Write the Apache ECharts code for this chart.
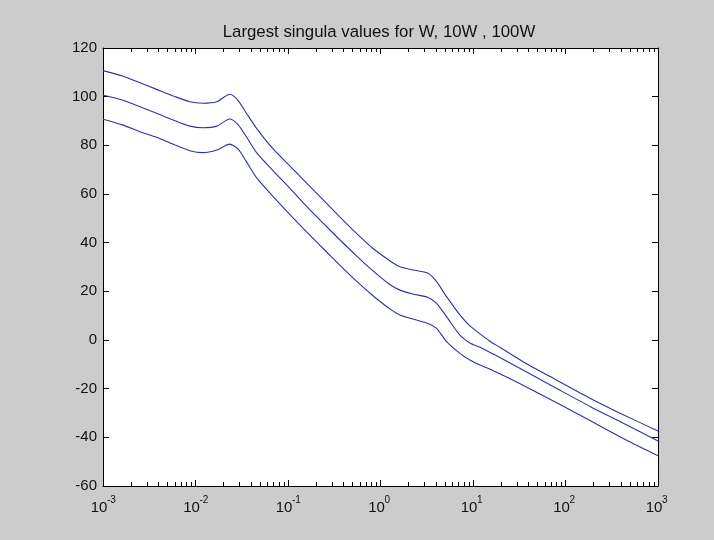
<!DOCTYPE html>
<html>
<head>
<meta charset="utf-8">
<script src="https://cdn.jsdelivr.net/npm/echarts@6/dist/echarts.min.js"></script>
<style>
  html, body { margin: 0; padding: 0; background: #cccccc; }
  #chart { width: 714px; height: 540px; }
</style>
</head>
<body>
<div id="chart"></div>
<script>
// Frequency grid (rad/s) shared by the three singular-value curves
const freq = [
  0.001, 0.00162, 0.00251, 0.0038, 0.00575, 0.0087, 0.012, 0.017, 0.0234, 0.0288,
  0.0355, 0.0457, 0.0692, 0.105, 0.158, 0.24, 0.363, 0.55, 0.83, 1.26,
  1.62, 2.24, 3.27, 4.04, 5.18, 7.21, 9.25, 11.9, 15.1, 19.5,
  34.7, 80.4, 186, 427, 1000
];

// Largest singular value of 100W
const sigma100W = [
  110.7, 108.5, 105.7, 103.0, 100.3, 97.9, 97.3, 97.9, 101.0, 98.5,
  93.2, 87.0, 78.5, 71.5, 64.6, 57.6, 50.6, 43.8, 37.6, 32.6,
  30.1, 28.8, 27.4, 24.0, 17.8, 10.3, 5.8, 2.5, -0.4, -3.0,
  -8.9, -16.5, -24.0, -30.8, -37.4
];

// Largest singular value of 10W
const sigma10W = [
  100.7, 98.6, 95.9, 93.2, 90.4, 87.9, 87.2, 87.9, 90.8, 88.5,
  83.5, 77.0, 69.5, 62.3, 55.0, 48.0, 41.2, 34.6, 28.4, 22.8,
  20.5, 18.9, 17.5, 15.1, 9.6, 2.0, -1.2, -3.0, -5.0, -7.2,
  -12.3, -19.9, -27.4, -34.3, -41.5
];

// Largest singular value of W
const sigmaW = [
  90.7, 88.4, 85.6, 83.3, 80.4, 77.8, 77.0, 78.1, 80.5, 78.5,
  73.3, 66.7, 58.9, 51.5, 44.5, 37.6, 30.8, 24.2, 18.2, 12.8,
  10.3, 8.6, 6.8, 4.8, -0.7, -5.5, -8.2, -10.3, -11.9, -13.9,
  -18.6, -25.8, -33.2, -40.6, -47.6
];

// Decade ticks of the log frequency axis: mantissa and exponent labels
const decadeTicks = [0.001, 0.01, 0.1, 1, 10, 100, 1000];
const decadeExponents = ['-3', '-2', '-1', '0', '1', '2', '3'];
const decadeBase = '10';

// Minor ticks at 2..9 times each decade
const minorTicks = [];
for (let i = 0; i < decadeTicks.length - 1; i++) {
  for (let k = 2; k <= 9; k++) minorTicks.push(+(k * decadeTicks[i]).toPrecision(3));
}

const FONT = '"Liberation Sans", Arial, sans-serif';
const LINE_COLOR = '#3030a8';

function decadeIndex(v) {
  return decadeTicks.findIndex(t => Math.abs(Math.log10(t) - Math.log10(v)) < 1e-6);
}

function logAxisBase(position) {
  return {
    type: 'log', logBase: 10, min: 0.001, max: 1000, position: position,
    axisLine: { show: false, onZero: false },
    axisTick: { show: false },
    axisLabel: { show: false },
    splitLine: { show: false }
  };
}

// Box edge with major decade ticks
function decadeAxis(position) {
  const a = logAxisBase(position);
  a.axisLine = { show: true, onZero: false, lineStyle: { color: '#000', width: 1 } };
  a.axisTick = { show: true, inside: true, length: 6, customValues: decadeTicks,
                 lineStyle: { color: '#000', width: 1 } };
  return a;
}

// Minor ticks at 2..9 within each decade
function minorAxis(position) {
  const a = logAxisBase(position);
  a.axisTick = { show: true, inside: true, length: 4, customValues: minorTicks,
                 lineStyle: { color: '#000', width: 1 } };
  return a;
}

// "10" part of the decade labels
function baseLabelAxis() {
  const a = logAxisBase('bottom');
  a.axisLabel = {
    show: true, margin: 14, customValues: decadeTicks, align: 'center',
    padding: [0, 8, 0, 0],
    formatter: () => decadeBase,
    fontFamily: FONT, fontSize: 15, color: '#111'
  };
  return a;
}

// Superscript exponent of the decade labels
function exponentLabelAxis() {
  const a = logAxisBase('bottom');
  a.axisLabel = {
    show: true, margin: 9, customValues: decadeTicks, align: 'left',
    padding: [0, 0, 0, 4],
    formatter: v => decadeExponents[decadeIndex(v)],
    fontFamily: FONT, fontSize: 10, color: '#111'
  };
  return a;
}

function magAxis(position, withLabels) {
  return {
    type: 'value', min: -60, max: 120, interval: 20, position: position,
    axisLine: { show: true, onZero: false, lineStyle: { color: '#000', width: 1 } },
    axisTick: { show: true, inside: true, length: 6, lineStyle: { color: '#000', width: 1 } },
    axisLabel: withLabels ? { show: true, margin: 6, fontFamily: FONT, fontSize: 15, color: '#111' }
                          : { show: false },
    splitLine: { show: false }
  };
}

function curve(name, values) {
  return {
    name: name, type: 'line', xAxisIndex: 0, yAxisIndex: 0,
    data: freq.map((f, i) => [f, values[i]]),
    showSymbol: false, smooth: 0.25,
    lineStyle: { color: LINE_COLOR, width: 1.1 },
    itemStyle: { color: LINE_COLOR },
    silent: true, animation: false
  };
}

const chart = echarts.init(document.getElementById('chart'), null, { renderer: 'canvas' });
chart.setOption({
  backgroundColor: '#cccccc',
  animation: false,
  title: {
    text: 'Largest singula values for W, 10W , 100W',
    left: 374, top: 19, textAlign: 'center',
    textStyle: { fontFamily: FONT, fontSize: 16.8, fontWeight: 'normal', color: '#111' }
  },
  grid: { left: 103, right: 56, top: 48, bottom: 54, show: true, backgroundColor: '#ffffff', borderWidth: 0 },
  xAxis: [
    decadeAxis('bottom'), minorAxis('bottom'),
    decadeAxis('top'), minorAxis('top'),
    baseLabelAxis(), exponentLabelAxis()
  ],
  yAxis: [magAxis('left', true), magAxis('right', false)],
  series: [curve('100W', sigma100W), curve('10W', sigma10W), curve('W', sigmaW)]
});
</script>
</body>
</html>
